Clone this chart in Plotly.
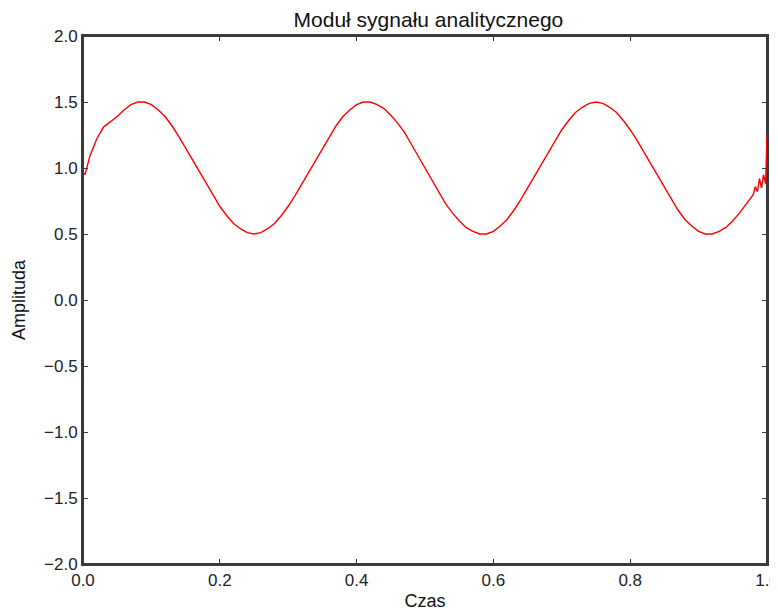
import plotly.graph_objects as go

# time samples (s) and amplitude of the analytic-signal modulus
czas = [0.0, 0.003, 0.01, 0.02, 0.03, 0.04, 0.05, 0.06, 0.07, 0.08, 0.09,
        0.10, 0.11, 0.12, 0.13, 0.14, 0.15, 0.16, 0.17, 0.18, 0.19,
        0.20, 0.21, 0.22, 0.23, 0.24, 0.25, 0.26, 0.27, 0.28, 0.29,
        0.30, 0.31, 0.32, 0.33, 0.34, 0.35, 0.36, 0.37, 0.38, 0.39,
        0.40, 0.41, 0.42, 0.43, 0.44, 0.45, 0.46, 0.47, 0.48, 0.49,
        0.50, 0.51, 0.52, 0.53, 0.54, 0.55, 0.56, 0.57, 0.58, 0.59,
        0.60, 0.61, 0.62, 0.63, 0.64, 0.65, 0.66, 0.67, 0.68, 0.69,
        0.70, 0.71, 0.72, 0.73, 0.74, 0.75, 0.76, 0.77, 0.78, 0.79,
        0.80, 0.81, 0.82, 0.83, 0.84, 0.85, 0.86, 0.87, 0.88, 0.89,
        0.90, 0.91, 0.92, 0.93, 0.94, 0.95, 0.96, 0.97, 0.975, 0.98,
        0.983, 0.986, 0.989, 0.992, 0.995, 0.998, 1.0]
amplituda = [0.97, 0.95, 1.09, 1.22, 1.31, 1.35, 1.39, 1.44, 1.48, 1.50, 1.50,
             1.48, 1.44, 1.39, 1.32, 1.24, 1.15, 1.06, 0.97, 0.88, 0.79,
             0.71, 0.64, 0.58, 0.54, 0.51, 0.50, 0.51, 0.54, 0.58, 0.64,
             0.71, 0.79, 0.88, 0.97, 1.06, 1.15, 1.24, 1.32, 1.39, 1.44,
             1.48, 1.50, 1.50, 1.48, 1.45, 1.40, 1.34, 1.27, 1.18, 1.09,
             1.00, 0.91, 0.82, 0.73, 0.66, 0.60, 0.55, 0.52, 0.50, 0.50,
             0.52, 0.56, 0.61, 0.68, 0.76, 0.85, 0.94, 1.03, 1.12, 1.21,
             1.29, 1.36, 1.42, 1.46, 1.49, 1.50, 1.49, 1.46, 1.42, 1.36,
             1.29, 1.21, 1.12, 1.03, 0.94, 0.85, 0.76, 0.68, 0.61, 0.56,
             0.52, 0.50, 0.50, 0.52, 0.55, 0.60, 0.66, 0.73, 0.77, 0.80,
             0.86, 0.82, 0.92, 0.85, 0.95, 0.88, 1.25]

x_ticks = [0.0, 0.2, 0.4, 0.6, 0.8, 1.0]
y_ticks = [-2.0, -1.5, -1.0, -0.5, 0.0, 0.5, 1.0, 1.5, 2.0]

fig = go.Figure()
fig.add_trace(go.Scatter(x=czas, y=amplituda, mode="lines",
                         line=dict(color="#ff0000", width=1.4),
                         showlegend=False, cliponaxis=False))

font = "Liberation Sans, Arial, sans-serif"
frame_col = "#3a3a3a"
axis_common = dict(showgrid=False, zeroline=False, showline=True, linecolor=frame_col,
                   linewidth=2, mirror="allticks", ticks="inside", ticklen=5,
                   tickcolor=frame_col, automargin=False, ticklabeloverflow="allow",
                   tickfont=dict(family=font, size=17, color="#222"))

# page body has an 8px margin, so the figure is 8px smaller than the window
fig.update_layout(
    width=770, height=603,
    margin=dict(l=75, r=11, t=28, b=47),
    paper_bgcolor="white", plot_bgcolor="white",
    title=dict(text="Moduł sygnału analitycznego", x=0.546, xanchor="center",
               y=0.981, yanchor="middle",
               font=dict(family=font, size=21, color="#111")),
    xaxis=dict(range=[0, 1], tickvals=x_ticks, ticktext=[f"{v:.1f}" for v in x_ticks],
               title=dict(text="Czas", font=dict(family=font, size=18, color="#111"),
                          standoff=6),
               **axis_common),
    yaxis=dict(range=[-2, 2], tickvals=y_ticks,
               ticktext=[f"{v:.1f}".replace("-", "\u2212") for v in y_ticks],
               title=dict(text="Amplituda", font=dict(family=font, size=18, color="#111"),
                          standoff=14),
               **axis_common),
)

# plot-area frame (classic box around the axes), drawn beneath the data line
fig.add_shape(type="rect", xref="x domain", yref="y domain", x0=0, x1=1, y0=0, y1=1,
              line=dict(color=frame_col, width=2), fillcolor="rgba(0,0,0,0)", layer="below")

fig.write_html("out.html")
